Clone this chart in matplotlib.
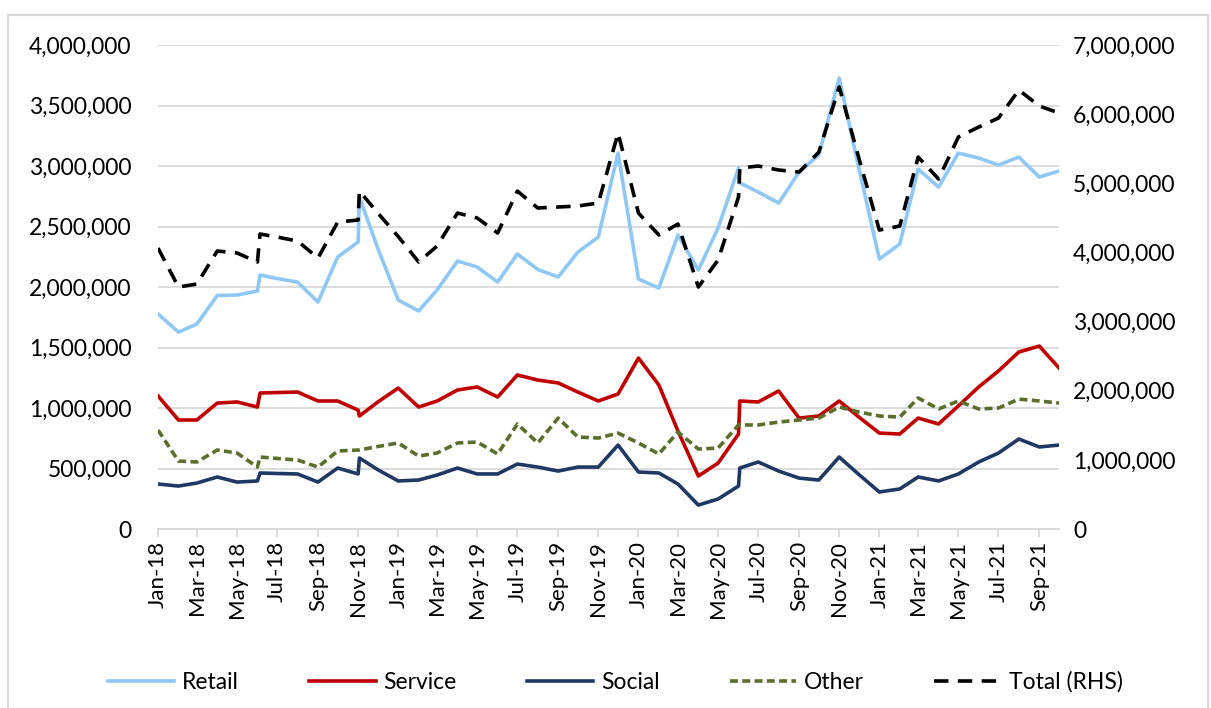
# Receitas por setor: Retail, Service, Social, Other (eixo esquerdo) e Total (eixo direito)

import matplotlib.pyplot as plt
import matplotlib.dates as mdates
import matplotlib.ticker as mticker
import pandas as pd
from matplotlib.patches import Rectangle

plt.rcParams['font.family'] = ['Lato', 'DejaVu Sans']

# datas (três meses têm um segundo ponto logo depois: quebra de série)
dates = pd.to_datetime([
    '2018-01-01', '2018-02-01', '2018-03-01', '2018-04-01', '2018-05-01',
    '2018-06-01', '2018-06-05', '2018-07-01', '2018-08-01', '2018-09-01',
    '2018-10-01', '2018-11-01', '2018-11-03', '2018-12-01',
    '2019-01-01', '2019-02-01', '2019-03-01', '2019-04-01', '2019-05-01',
    '2019-06-01', '2019-07-01', '2019-08-01', '2019-09-01', '2019-10-01',
    '2019-11-01', '2019-12-01',
    '2020-01-01', '2020-02-01', '2020-03-01', '2020-04-01', '2020-05-01',
    '2020-06-01', '2020-06-03', '2020-07-01', '2020-08-01', '2020-09-01',
    '2020-10-01', '2020-11-01', '2020-12-01',
    '2021-01-01', '2021-02-01', '2021-03-01', '2021-04-01', '2021-05-01',
    '2021-06-01', '2021-07-01', '2021-08-01', '2021-09-01', '2021-10-01',
])

retail = [
    1777000, 1628000, 1694000, 1930000, 1934000,
    1967000, 2099000, 2070000, 2041000, 1876000,
    2248000, 2372000, 2744000, 2318000,
    1893000, 1802000, 1975000, 2215000, 2165000,
    2041000, 2273000, 2145000, 2083000, 2289000,
    2413000, 3107000,
    2066000, 1992000, 2430000, 2140000, 2488000,
    2983000, 2860000, 2785000, 2694000, 2950000,
    3091000, 3727000, 2979000,
    2231000, 2355000, 2975000, 2826000, 3107000,
    3066000, 3008000, 3074000, 2909000, 2959000,
]

service = [
    1100000, 901000, 901000, 1041000, 1050000,
    1008000, 1124000, 1128000, 1132000, 1058000,
    1058000, 983000, 934000, 1050000,
    1165000, 1008000, 1058000, 1149000, 1174000,
    1091000, 1273000, 1231000, 1207000, 1132000,
    1058000, 1116000,
    1413000, 1190000, 810000, 438000, 545000,
    785000, 1058000, 1050000, 1141000, 917000,
    934000, 1058000, 925000,
    793000, 785000, 917000, 868000, 1017000,
    1174000, 1306000, 1463000, 1512000, 1331000,
]

social = [
    372000, 355000, 380000, 430000, 388000,
    397000, 463000, 459000, 455000, 388000,
    504000, 455000, 587000, 490000,
    397000, 405000, 446000, 504000, 455000,
    455000, 537000, 512000, 479000, 512000,
    512000, 694000,
    471000, 463000, 372000, 198000, 248000,
    355000, 504000, 554000, 479000, 421000,
    405000, 595000, 450000,
    306000, 331000, 430000, 397000, 455000,
    554000, 628000, 744000, 678000, 694000,
]

other = [
    818000, 562000, 554000, 653000, 628000,
    512000, 595000, 583000, 570000, 512000,
    645000, 653000, 653000, 682000,
    711000, 603000, 628000, 711000, 719000,
    620000, 868000, 711000, 917000, 760000,
    752000, 793000,
    711000, 620000, 802000, 661000, 669000,
    860000, 860000, 860000, 884000, 901000,
    917000, 1008000, 967000,
    934000, 925000, 1083000, 992000, 1058000,
    992000, 1000000, 1074000, 1058000, 1041000,
]

total = [
    4064000, 3500000, 3543000, 4021000, 3992000,
    3862000, 4267000, 4223000, 4165000, 3919000,
    4440000, 4469000, 4888000, 4570000,
    4230000, 3862000, 4093000, 4570000, 4498000,
    4281000, 4888000, 4643000, 4657000, 4672000,
    4715000, 5727000,
    4570000, 4252000, 4411000, 3500000, 3891000,
    4802000, 5221000, 5250000, 5192000, 5163000,
    5450000, 6393000, 5360000,
    4324000, 4382000, 5380000, 5062000, 5669000,
    5814000, 5944000, 6349000, 6118000, 6017000,
]

fig = plt.figure(figsize=(12.11, 7.08), dpi=100)
ax = fig.add_axes([0.1305, 0.2528, 0.744, 0.6836])
ax2 = ax.twinx()

ax.plot(dates, retail, color='#8fc8f5', lw=2.6, label='Retail')
ax.plot(dates, service, color='#c00000', lw=2.6, label='Service')
ax.plot(dates, social, color='#1f3864', lw=2.6, label='Social')
ax.plot(dates, other, color='#5b6f2b', lw=2.6, dashes=(2.2, 1.2), label='Other')
ax2.plot(dates, total, color='black', lw=2.6, dashes=(4, 2.6), label='Total (RHS)')

# eixos
ax.set_xlim(dates[0], dates[-1])
ax.set_ylim(0, 4000000)
ax.set_yticks(range(0, 4000001, 500000))
ax2.set_ylim(0, 7000000)
ax2.set_yticks(range(0, 7000001, 1000000))
fmt = mticker.FuncFormatter(lambda v, p: f'{int(v):,}')
ax.yaxis.set_major_formatter(fmt)
ax2.yaxis.set_major_formatter(fmt)

ax.xaxis.set_major_locator(mdates.MonthLocator(bymonth=[1, 3, 5, 7, 9, 11]))
ax.xaxis.set_major_formatter(mdates.DateFormatter('%b-%y'))
plt.setp(ax.get_xticklabels(), rotation=90)

ax.grid(axis='y', color='#d9d9d9', lw=1.3)
ax.set_axisbelow(True)
for a in (ax, ax2):
    for s in ('top', 'left', 'right'):
        a.spines[s].set_visible(False)
    a.spines['bottom'].set_color('#d9d9d9')
    a.spines['bottom'].set_linewidth(1.3)
ax.tick_params(axis='x', colors='#d9d9d9', labelcolor='black', length=5.5, width=1.3,
               pad=3, labelsize=16)
ax.tick_params(axis='y', length=0, pad=19, labelsize=16.5)
ax2.tick_params(axis='y', length=0, pad=10, labelsize=16.5)

# legenda
h1, l1 = ax.get_legend_handles_labels()
h2, l2 = ax2.get_legend_handles_labels()
fig.legend(h1 + h2, l1 + l2, loc='center', bbox_to_anchor=(0.508, 0.037), ncol=5,
           frameon=False, fontsize=16.5, handlelength=2.9, handletextpad=0.35,
           columnspacing=3.05)

# borda do gráfico
fig.patches.append(Rectangle((8 / 1211, -0.01), 1200 / 1211, 1 - 15 / 708 + 0.01,
                             transform=fig.transFigure, fill=False,
                             edgecolor='#d9d9d9', lw=1.5))

plt.savefig('out.png')
